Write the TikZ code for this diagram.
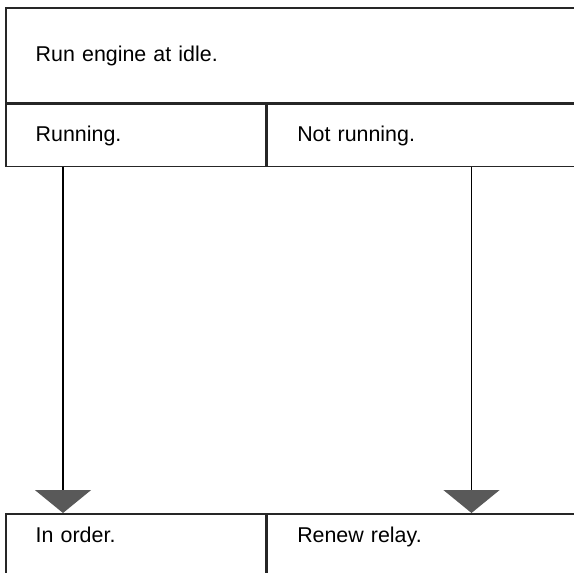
\documentclass[tikz,border=0pt]{standalone}
\usepackage{fontspec}
\setmainfont{Liberation Sans}
\usetikzlibrary{arrows.meta, positioning}

\begin{document}
\begin{tikzpicture}[
    cell/.style={draw=black!85, line width=0.75pt, inner xsep=15pt, inner ysep=0pt, align=left,
      font=\fontsize{10.7}{13}\selectfont, text height=8pt, text depth=2pt},
    lastcell/.style={cell, text depth=10pt},
    flow/.style={line width=0.9pt, -{Triangle[width=28pt, length=11.5pt, color=black!65]}}
  ]
    \useasboundingbox (0,0) rectangle (287pt,-286.5pt);
    \clip (0,0) rectangle (287pt,-286.5pt);

    % Question and the two answers
    \node[cell, anchor=north west, text width=267.5pt, minimum height=47.5pt] (idle) at (2.5pt,-3.5pt) {Run engine at idle.};
    \node[cell, below right=0pt and 0pt of idle.south west, text width=100pt, minimum height=31pt] (running) {Running.};
    \node[cell, right=0pt of running, text width=137.5pt, minimum height=31pt] (notrun) {Not running.};

    % Results
    \node[lastcell, below right=173pt and 0pt of running.south west, text width=100pt, minimum height=31pt] (inorder) {In order.};
    \node[lastcell, right=0pt of inorder, text width=137.5pt, minimum height=31pt] (renew) {Renew relay.};

    % Arrows down to the results
    \draw[flow] ([xshift=29pt]running.south west) -- ([xshift=29pt]inorder.north west);
    \draw[flow] ([xshift=102.5pt]notrun.south west) -- ([xshift=102.5pt]renew.north west);
\end{tikzpicture}
\end{document}
